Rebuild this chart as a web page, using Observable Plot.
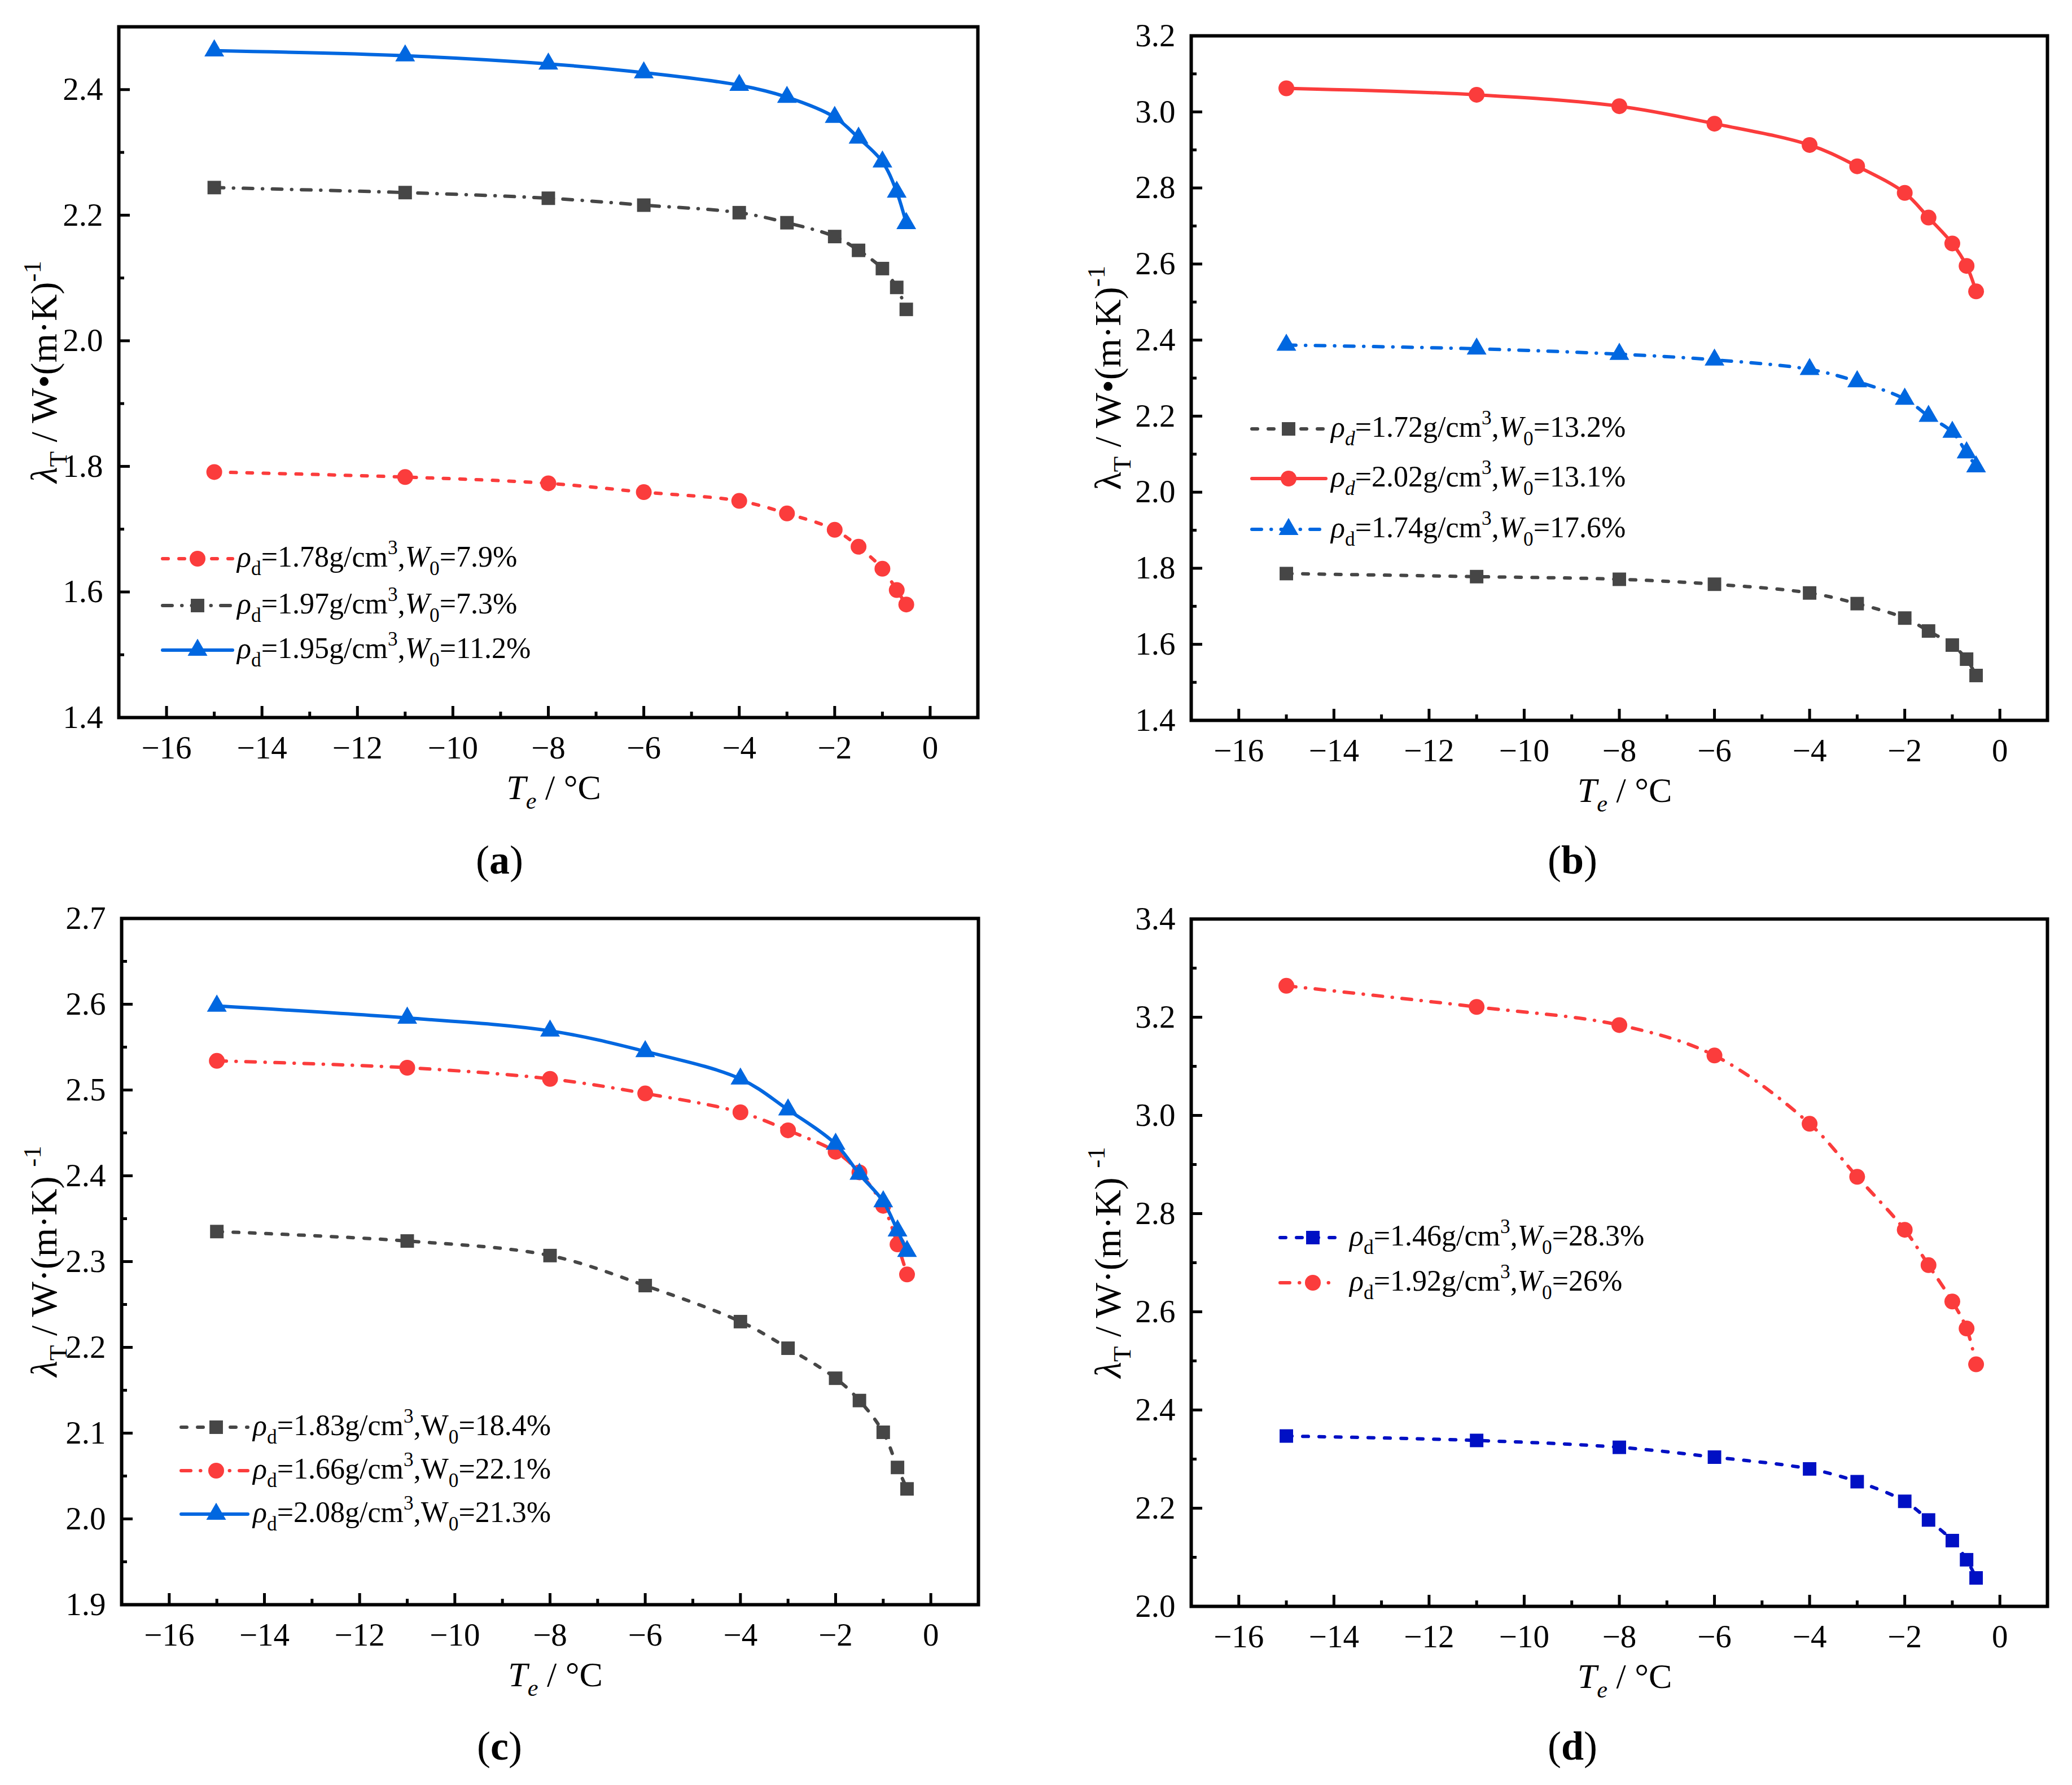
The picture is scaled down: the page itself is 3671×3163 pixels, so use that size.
<!DOCTYPE html>
<html>
<head>
<meta charset="utf-8">
<script src="https://cdn.jsdelivr.net/npm/d3@7"></script>
<script src="https://cdn.jsdelivr.net/npm/@observablehq/plot@0.6"></script>
<style>
  html, body { margin: 0; padding: 0; background: #fff; }
  #wrap { position: relative; width: 3671px; height: 3163px; background: #fff; overflow: hidden; }
  #wrap svg { position: absolute; }
</style>
</head>
<body>
<div id="wrap"></div>
<script>
// ---------- data ----------
const temps = [-15, -11, -8, -6, -4, -3, -2, -1.5, -1, -0.7, -0.5];

const xMajor = [-16, -14, -12, -10, -8, -6, -4, -2, 0];
const xMinor = [-15, -13, -11, -9, -7, -5, -3, -1];

// panel (a)
const a_178_79  = [1.791, 1.783, 1.773, 1.759, 1.745, 1.725, 1.699, 1.672, 1.637, 1.603, 1.580];
const a_197_73  = [2.244, 2.236, 2.227, 2.216, 2.204, 2.188, 2.166, 2.144, 2.115, 2.085, 2.050];
const a_195_112 = [2.462, 2.454, 2.441, 2.427, 2.407, 2.388, 2.356, 2.323, 2.285, 2.237, 2.187];
const aTicks = [1.4, 1.6, 1.8, 2.0, 2.2, 2.4];
const aMinor = [1.5, 1.7, 1.9, 2.1, 2.3];

// panel (b)
const b_172_132 = [1.786, 1.778, 1.771, 1.758, 1.735, 1.707, 1.669, 1.635, 1.598, 1.561, 1.518];
const b_202_131 = [3.062, 3.045, 3.015, 2.969, 2.913, 2.857, 2.787, 2.722, 2.654, 2.595, 2.528];
const b_174_176 = [2.387, 2.377, 2.363, 2.348, 2.323, 2.291, 2.245, 2.200, 2.158, 2.104, 2.067];
const bTicks = [1.4, 1.6, 1.8, 2.0, 2.2, 2.4, 2.6, 2.8, 3.0, 3.2];
const bMinor = [1.5, 1.7, 1.9, 2.1, 2.3, 2.5, 2.7, 2.9, 3.1];

// panel (c)
const c_183_184 = [2.335, 2.324, 2.307, 2.272, 2.230, 2.199, 2.164, 2.138, 2.101, 2.060, 2.035];
const c_166_221 = [2.534, 2.526, 2.513, 2.496, 2.474, 2.453, 2.428, 2.404, 2.365, 2.320, 2.285];
const c_208_213 = [2.598, 2.584, 2.569, 2.545, 2.513, 2.477, 2.437, 2.402, 2.370, 2.336, 2.312];
const cTicks = [1.9, 2.0, 2.1, 2.2, 2.3, 2.4, 2.5, 2.6, 2.7];
const cMinor = [1.95, 2.05, 2.15, 2.25, 2.35, 2.45, 2.55, 2.65];

// panel (d)
const d_146_283 = [2.347, 2.338, 2.324, 2.304, 2.280, 2.254, 2.214, 2.176, 2.134, 2.095, 2.058];
const d_192_26  = [3.264, 3.221, 3.184, 3.122, 2.983, 2.875, 2.767, 2.695, 2.621, 2.566, 2.493];
const dTicks = [2.0, 2.2, 2.4, 2.6, 2.8, 3.0, 3.2, 3.4];
const dMinor = [2.1, 2.3, 2.5, 2.7, 2.9, 3.1, 3.3];

// ---------- styles ----------
const RED = "#fb3c3c", GRAY = "#464646", BLUE = "#0067e0", NAVY = "#0010c4";
const DASH = "10,19", DASHDOT = "17,17,0.5,17", SOLID = null;
const SYM = { circle: ["circle", 14], square: ["square", 13.5], triangle: ["triangle", 13] };
const FONT = "'Liberation Serif', 'Times New Roman', serif";
const LW = 6;

// legend text segments: [text, kind]  kind: "" normal, i italic, sub, subi, sup
const leg = (dens, dItalic, wItalic, w) => [
  ["ρ", "i"], ["d", dItalic ? "subi" : "sub"], ["=" + dens + "g/cm", ""], ["3", "sup"], [",", ""],
  ["W", wItalic ? "i" : ""], ["0", "sub"], ["=" + w + "%", ""]
];

const panels = [
  {
    id: "a", left: 0, top: 0, width: 1835, height: 1500,
    margin: { l: 210, r: 103, t: 47, b: 229 },
    yDomain: [1.4, 2.5], yTicks: aTicks, yMinor: aMinor,
    series: [
      { values: a_178_79, color: RED, dash: DASH, sym: "circle", label: leg("1.78", false, true, "7.9") },
      { values: a_197_73, color: GRAY, dash: DASHDOT, sym: "square", label: leg("1.97", false, true, "7.3") },
      { values: a_195_112, color: BLUE, dash: SOLID, sym: "triangle", label: leg("1.95", false, true, "11.2") }
    ],
    legend: { x0: 288, x1: 412, xm: 350, xt: 420, ys: [990, 1073, 1152] },
    ytitle: { x: 100, italic: true, sep: " / W•(m·K)" },
    letter: { x: 885, y: 1548 }
  },
  {
    id: "b", left: 1835, top: 0, width: 1836, height: 1500,
    margin: { l: 275, r: 44, t: 63, b: 224 },
    yDomain: [1.4, 3.2], yTicks: bTicks, yMinor: bMinor,
    series: [
      { values: b_172_132, color: GRAY, dash: DASH, sym: "square", label: leg("1.72", true, true, "13.2") },
      { values: b_202_131, color: RED, dash: SOLID, sym: "circle", label: leg("2.02", true, true, "13.1") },
      { values: b_174_176, color: BLUE, dash: DASHDOT, sym: "triangle", label: leg("1.74", false, true, "17.6") }
    ],
    legend: { x0: 2218, x1: 2349, xm: 2283, xt: 2358, ys: [760, 848, 938] },
    ytitle: { x: 1985, italic: false, sep: " / W•(m·K)" },
    letter: { x: 2786, y: 1548 }
  },
  {
    id: "c", left: 0, top: 1560, width: 1835, height: 1603,
    margin: { l: 215, r: 102, t: 67, b: 320 },
    yDomain: [1.9, 2.7], yTicks: cTicks, yMinor: cMinor,
    series: [
      { values: c_183_184, color: GRAY, dash: DASH, sym: "square", label: leg("1.83", false, false, "18.4") },
      { values: c_166_221, color: RED, dash: DASHDOT, sym: "circle", label: leg("1.66", false, false, "22.1") },
      { values: c_208_213, color: BLUE, dash: SOLID, sym: "triangle", label: leg("2.08", false, false, "21.3") }
    ],
    legend: { x0: 321, x1: 439, xm: 383, xt: 448, ys: [2529, 2606, 2683] },
    ytitle: { x: 100, italic: true, sep: " / W·(m·K) " },
    letter: { x: 885, y: 3118 }
  },
  {
    id: "d", left: 1835, top: 1560, width: 1836, height: 1603,
    margin: { l: 275, r: 44, t: 68, b: 317 },
    yDomain: [2.0, 3.4], yTicks: dTicks, yMinor: dMinor,
    series: [
      { values: d_146_283, color: NAVY, dash: DASH, sym: "square", label: leg("1.46", false, true, "28.3") },
      { values: d_192_26, color: RED, dash: DASHDOT, sym: "circle", label: leg("1.92", false, true, "26") }
    ],
    legend: { x0: 2268, x1: 2369, xm: 2326, xt: 2391, ys: [2193, 2273] },
    ytitle: { x: 1985, italic: true, sep: " / W·(m·K) " },
    letter: { x: 2786, y: 3118 }
  }
];

const wrap = document.getElementById("wrap");
const fmtY = d3.format(".1f");
const fmtX = d3.format("d");

for (const p of panels) {
  const marks = [
    Plot.axisX(xMajor, { anchor: "bottom", tickSize: -20, tickPadding: 52, strokeWidth: 5, tickFormat: fmtX, label: null, fontSize: 57, fontFamily: FONT }),
    Plot.axisX(xMinor, { anchor: "bottom", tickSize: -10, strokeWidth: 5, tickFormat: () => "", label: null }),
    Plot.axisY(p.yTicks, { anchor: "left", tickSize: -20, tickPadding: 48, strokeWidth: 5, tickFormat: fmtY, label: null, fontSize: 57, fontFamily: FONT }),
    Plot.axisY(p.yMinor, { anchor: "left", tickSize: -10, strokeWidth: 5, tickFormat: () => "", label: null })
  ];
  for (const s of p.series) {
    const data = temps.map((t, i) => ({ t, v: s.values[i] }));
    marks.push(Plot.line(data, {
      x: "t", y: "v", stroke: s.color, strokeWidth: LW,
      strokeDasharray: s.dash || undefined, strokeLinecap: "round", curve: "catmull-rom"
    }));
    const [symbol, r] = SYM[s.sym];
    marks.push(Plot.dot(data, { x: "t", y: "v", symbol, r, fill: s.color, stroke: "none" }));
  }
  marks.push(Plot.frame({ stroke: "black", strokeWidth: 6 }));

  const svg = Plot.plot({
    width: p.width, height: p.height,
    marginLeft: p.margin.l, marginRight: p.margin.r, marginTop: p.margin.t, marginBottom: p.margin.b,
    x: { domain: [-17, 1] },
    y: { domain: p.yDomain },
    style: { fontFamily: FONT, fontSize: "57px", background: "transparent", color: "black", overflow: "visible" },
    marks
  });
  svg.style.left = p.left + "px";
  svg.style.top = p.top + "px";
  wrap.appendChild(svg);
}

// ---------- overlay: titles, legends, panel letters ----------
const ov = d3.select(wrap).append("svg")
  .attr("width", 3671).attr("height", 3163)
  .style("left", "0px").style("top", "0px")
  .attr("font-family", FONT);

function rich(sel, segs, size) {
  let shift = 0;
  for (const [txt, kind] of segs) {
    let target = 0, fs = size, style = "normal";
    if (kind === "i") style = "italic";
    if (kind === "sub" || kind === "subi") { target = 0.28 * size; fs = 0.68 * size; }
    if (kind === "subi") style = "italic";
    if (kind === "sup") { target = -0.42 * size; fs = 0.68 * size; }
    sel.append("tspan")
      .attr("dy", target - shift)
      .attr("font-size", fs)
      .attr("font-style", style)
      .text(txt);
    shift = target;
  }
}

for (const p of panels) {
  const fx0 = p.left + p.margin.l, fx1 = p.left + p.width - p.margin.r;
  const fy0 = p.top + p.margin.t, fy1 = p.top + p.height - p.margin.b;
  const cx = (fx0 + fx1) / 2, cy = (fy0 + fy1) / 2;

  // x title
  const xt = ov.append("text").attr("x", cx + 10).attr("y", fy1 + 145)
    .attr("text-anchor", "middle").attr("font-size", 62);
  rich(xt, [["T", "i"], ["e", "subi"], [" / °C", ""]], 62);

  // y title
  const yt = ov.append("text")
    .attr("transform", `translate(${p.ytitle.x},${cy}) rotate(-90)`)
    .attr("text-anchor", "middle").attr("font-size", 66);
  rich(yt, [["λ", p.ytitle.italic ? "i" : ""], ["T", "sub"], [p.ytitle.sep, ""], ["-1", "sup"]], 66);

  // panel letter
  const lt = ov.append("text").attr("x", p.letter.x).attr("y", p.letter.y)
    .attr("text-anchor", "middle").attr("font-size", 72);
  lt.append("tspan").text("(");
  lt.append("tspan").attr("font-weight", "bold").text(p.id);
  lt.append("tspan").text(")");

  // legend
  const L = p.legend;
  p.series.forEach((s, i) => {
    const y = L.ys[i];
    const g = ov.append("g");
    g.append("line").attr("x1", L.x0).attr("x2", L.x1).attr("y1", y).attr("y2", y)
      .attr("stroke", s.color).attr("stroke-width", LW)
      .attr("stroke-linecap", "round")
      .attr("stroke-dasharray", s.dash || null);
    const [symbol, r] = SYM[s.sym];
    const type = symbol === "circle" ? d3.symbolCircle : symbol === "square" ? d3.symbolSquare : d3.symbolTriangle;
    g.append("path").attr("d", d3.symbol(type, Math.PI * r * r)())
      .attr("transform", `translate(${L.xm},${y})`).attr("fill", s.color);
    const t = g.append("text").attr("x", L.xt).attr("y", y + 14).attr("font-size", 52);
    rich(t, s.label, 52);
  });
}
</script>
</body>
</html>
